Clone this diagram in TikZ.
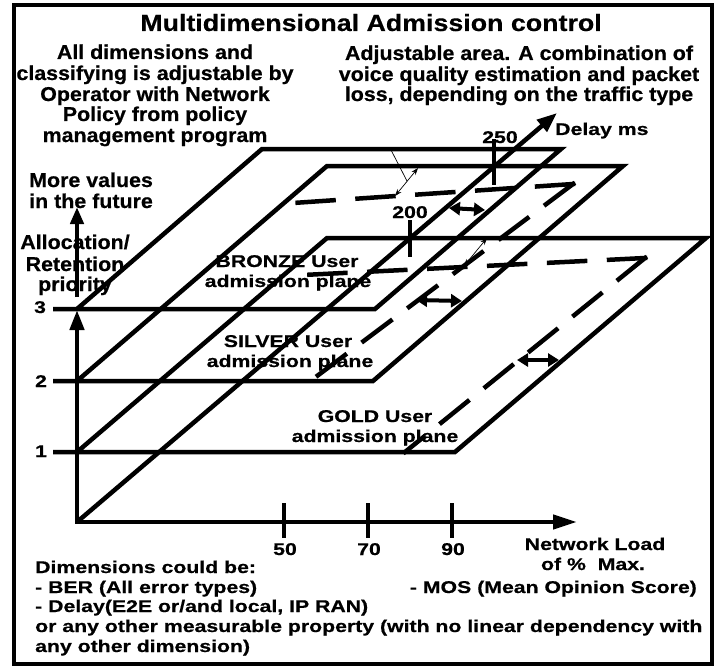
\documentclass[tikz,border=0pt]{standalone}
\usepackage{fontspec}
\setmainfont{Liberation Sans}
\newfontfamily\titlefont{Liberation Sans}[FakeStretch=1.14,FakeBold=0.4]
\newfontfamily\notefont{Liberation Sans}[FakeStretch=1.07,FakeBold=0.6]
\newfontfamily\labelfont{Liberation Sans}[FakeStretch=1.25,FakeBold=0.6]
\usetikzlibrary{arrows.meta}

\begin{document}
\begin{tikzpicture}[x=1pt,y=-1pt,
  frame/.style={line width=3.5pt},
  edge/.style={line width=4.5pt, line join=miter},
  axisline/.style={line width=4.5pt},
  tickmark/.style={line width=4.5pt},
  areadash/.style={line width=4.5pt, line cap=rect, dash pattern=on 36pt off 24pt},
  areadashside/.style={line width=4.5pt, line cap=rect, dash pattern=on 34pt off 23pt},
  gaparrow/.style={line width=4pt, {Triangle[length=11pt,width=13pt]}-{Triangle[length=11pt,width=13pt]}},
  leader/.style={line width=0.7pt},
  leaderarrow/.style={line width=0.7pt, {Stealth[length=7pt,width=5pt]}-{Stealth[length=7pt,width=5pt]}},
  titletext/.style={inner sep=0pt, anchor=base, font=\titlefont\bfseries\fontsize{23.5}{24}\selectfont},
  note/.style={inner sep=0pt, anchor=base, font=\notefont\bfseries\fontsize{20}{21}\selectfont},
  lbl/.style={inner sep=0pt, anchor=base, font=\labelfont\bfseries\fontsize{17}{20}\selectfont},
]
\useasboundingbox (0,0) rectangle (714,666);

% outer frame
\draw[frame] (14,5) rectangle (712,664);

% axes
\coordinate (O) at (77,522);
\coordinate (Ytop) at (77,310);
\coordinate (Xend) at (577,522);
\coordinate (Dtip) at (557,113);
\coordinate (Ubot) at (77,297);
\coordinate (Utop) at (77,207);

% admission planes: level tick, bottom, right, top and left edges
\coordinate (L3) at (53,309); \coordinate (B1) at (77,309);
\coordinate (B2) at (375,309); \coordinate (B3) at (561,149); \coordinate (B4) at (262,149);
\coordinate (L2) at (53,381); \coordinate (S1) at (77,381);
\coordinate (S2) at (373,381); \coordinate (S3) at (623,166); \coordinate (S4) at (327,166);
\coordinate (L1) at (53,452); \coordinate (G1) at (77,452);
\coordinate (G2) at (455,452); \coordinate (G3) at (706,238); \coordinate (G4) at (327,238);

\draw[edge] (L3) -- (B2) -- (B3) -- (B4) -- (B1);
\draw[edge] (L2) -- (S2) -- (S3) -- (S4) -- (S1);
\draw[edge] (L1) -- (G2) -- (G3) -- (G4) -- (G1);

\draw[axisline, {Triangle[length=20pt,width=14pt]}-{Triangle[length=24pt,width=14pt]}] (Ytop) -- (O) -- (Xend);
\draw[axisline, -{Triangle[length=20pt,width=15pt]}] (O) -- (Dtip);
\draw[axisline, -{Triangle[length=17pt,width=13pt]}] (Ubot) -- (Utop);

% scale marks
\draw[tickmark] (284,503) -- (284,538);
\draw[tickmark] (368,503) -- (368,538);
\draw[tickmark] (452,503) -- (452,538);
\draw[tickmark] (494,139) -- (494,185);
\draw[tickmark] (410,220) -- (410,257);

% adjustable areas
\coordinate (Sc) at (573,184); \coordinate (Sl) at (293,203); \coordinate (Sb) at (313,379);
\coordinate (Gc) at (645,258); \coordinate (Gl) at (303,275); \coordinate (Gb) at (405,452);
\draw[areadash] (Sc) -- (Sl);
\draw[areadashside] (Sc) -- (Sb);
\draw[areadash] (Gc) -- (Gl);
\draw[areadashside] (Gc) -- (Gb);

% adjustment arrows
\coordinate (a1s) at (449,208); \coordinate (a1e) at (485,210);
\coordinate (a2s) at (416,300); \coordinate (a2e) at (462,301);
\coordinate (a3s) at (517,360); \coordinate (a3e) at (559,360);
\draw[gaparrow] (a1s) -- (a1e);
\draw[gaparrow] (a2s) -- (a2e);
\draw[gaparrow] (a3s) -- (a3e);

\coordinate (t1s) at (395,196); \coordinate (t1e) at (418,168);
\coordinate (t1l) at (390,148); \coordinate (t1m) at (407,181);
\coordinate (t2s) at (464,266); \coordinate (t2e) at (487,238);
\draw[leaderarrow] (t1s) -- (t1e);
\draw[leader] (t1l) -- (t1m);
\draw[leaderarrow] (t2s) -- (t2e);

% texts
\node[titletext] (title) at (371,31) {Multidimensional Admission control};

\node[note] (pol1) at (155,59) {All dimensions and};
\node[note] (pol2) at (155,80) {classifying is adjustable by};
\node[note] (pol3) at (155,101) {Operator with Network};
\node[note] (pol4) at (155,121) {Policy from policy};
\node[note] (pol5) at (155,142) {management program};

\node[note] (adj1) at (519,60) {Adjustable area. A combination of};
\node[note] (adj2) at (519,81) {voice quality estimation and packet};
\node[note] (adj3) at (519,101) {loss, depending on the traffic type};

\node[note, anchor=base west] (more1) at (29,187) {More values};
\node[note, anchor=base west] (more2) at (29,208) {in the future};
\node[note] (prio1) at (75,249) {Allocation/};
\node[note] (prio2) at (75,271) {Retention};
\node[note] (prio3) at (75,291) {priority};

\node[lbl] (lev3) at (40,313) {3};
\node[lbl] (lev2) at (41,387) {2};
\node[lbl] (lev1) at (41,457) {1};

\node[lbl] (bronze1) at (287,267) {BRONZE User};
\node[lbl] (bronze2) at (288,287) {admission plane};
\node[lbl] (silver1) at (288,347) {SILVER User};
\node[lbl] (silver2) at (290,367) {admission plane};
\node[lbl] (gold1) at (375,422) {GOLD User};
\node[lbl] (gold2) at (375,442) {admission plane};

\node[lbl, anchor=base west] (delay) at (555,135) {Delay ms};
\node[lbl] (d250) at (500,143) {250};
\node[lbl] (d200) at (410,218) {200};

\node[lbl] (n50) at (285,555) {50};
\node[lbl] (n70) at (369,555) {70};
\node[lbl] (n90) at (453,555) {90};
\node[lbl] (load1) at (595,550) {Network Load};
\node[lbl] (load2) at (593,570) {of \%\ \ Max.};

\node[lbl, anchor=base west] (dim0) at (35,573) {Dimensions could be:};
\node[lbl, anchor=base west] (dim1) at (35,593) {- BER (All error types)};
\node[lbl, anchor=base east] (dim2) at (697,593) {- MOS (Mean Opinion Score)};
\node[lbl, anchor=base west] (dim3) at (35,612) {- Delay(E2E or/and local, IP RAN)};
\node[lbl, anchor=base west] (dim4) at (35,632) {or any other measurable property (with no linear dependency with};
\node[lbl, anchor=base west] (dim5) at (35,652) {any other dimension)};
\end{tikzpicture}
\end{document}
